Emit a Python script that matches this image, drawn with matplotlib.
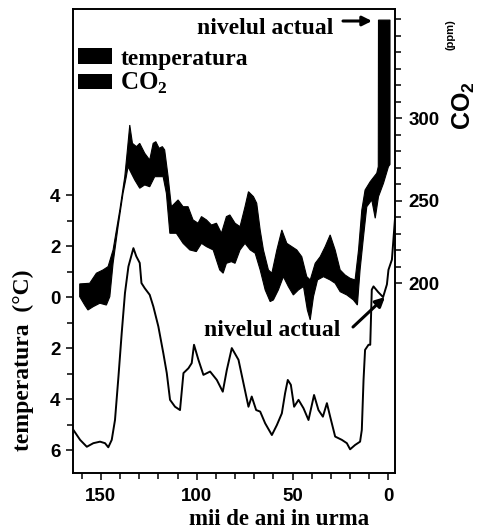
import numpy as np
import matplotlib
matplotlib.use("Agg")
import matplotlib.pyplot as plt
from matplotlib.patches import Patch

plt.rcParams["mathtext.fontset"] = "custom"
plt.rcParams["mathtext.sf"] = "Liberation Sans:bold"
plt.rcParams["mathtext.bf"] = "Liberation Serif:bold"

# CO2 band (ppm): upper and lower edges, thousands of years before present
co2_up_age = [161.0, 155.8, 152.3, 148.8, 146.2, 143.6, 140.1, 137.5, 136.3, 134.9,
              133.5, 131.4, 129.7, 127.1, 124.5, 122.7, 121.3, 119.6, 117.9, 116.7,
              114.9, 113.2, 109.7, 107.1, 104.5, 101.9, 99.3, 97.5, 94.9, 92.3,
              89.7, 87.1, 84.5, 82.7, 80.0, 77.4, 74.8, 73.0, 70.4, 68.7,
              66.9, 65.2, 62.6, 60.8, 58.2, 55.6, 53.0, 50.4, 47.8, 45.2,
              42.6, 40.8, 38.2, 35.6, 33.0, 30.4, 27.8, 25.2, 22.6, 20.0,
              17.4, 15.6, 13.9, 12.2, 9.5, 6.1, 5.3, 5.2, -0.8]
co2_up = [199.6, 200.0, 206.1, 208.1, 210.1, 220.2, 244.4, 264.6, 278.8, 295.9,
          284.8, 282.8, 284.8, 278.8, 274.7, 284.8, 285.8, 281.8, 282.8, 280.8,
          264.6, 246.4, 250.5, 246.4, 246.4, 238.4, 236.4, 240.4, 238.4, 235.3,
          236.4, 230.3, 240.4, 241.4, 236.4, 234.3, 246.4, 255.5, 252.5, 248.5,
          232.3, 220.2, 208.1, 206.1, 220.2, 232.3, 224.2, 222.2, 220.2, 216.1,
          204.0, 202.0, 212.1, 216.1, 222.2, 229.3, 220.2, 208.1, 205.0, 203.0,
          202.0, 220.2, 244.4, 256.5, 261.6, 266.7, 270.7, 359.5, 359.5]

co2_lo_age = [161.0, 158.4, 156.7, 154.0, 150.5, 147.1, 145.3, 143.6, 141.0, 138.4,
              136.7, 135.8, 134.1, 132.3, 129.7, 127.1, 124.5, 121.9, 119.3, 117.5,
              115.8, 114.0, 110.6, 107.1, 103.6, 100.2, 97.5, 94.9, 91.4, 88.0,
              86.2, 84.5, 81.9, 80.0, 77.4, 74.8, 72.1, 69.5, 66.9, 64.3,
              61.7, 60.0, 57.4, 54.8, 52.2, 49.6, 46.9, 44.3, 42.3, 40.8,
              39.1, 37.0, 33.9, 30.4, 27.8, 25.2, 21.7, 18.3, 16.2, 14.8,
              13.0, 11.3, 8.7, 6.9, 5.2, 2.6, 0.0, -0.8]
co2_lo = [191.9, 186.8, 183.8, 185.8, 187.9, 186.8, 191.9, 212.1, 234.3, 254.5,
          264.6, 270.7, 266.7, 262.6, 257.6, 259.6, 258.5, 264.6, 264.6, 264.6,
          254.5, 230.3, 230.3, 224.2, 220.2, 219.2, 224.2, 222.2, 220.2, 208.1,
          206.1, 212.1, 213.1, 212.1, 220.2, 224.2, 220.2, 218.2, 208.1, 196.0,
          188.9, 189.9, 196.0, 204.0, 198.0, 192.9, 196.0, 198.0, 183.8, 177.8,
          191.9, 202.0, 204.0, 202.0, 200.0, 194.9, 192.9, 189.9, 186.8, 208.1,
          228.3, 246.4, 250.5, 239.4, 252.5, 260.6, 270.7, 272.0]

# temperature difference (deg C) vs. thousands of years before present
temp_age = [164.3, 160.8, 157.3, 153.9, 150.4, 147.8, 146.1, 144.3, 142.6, 140.8,
            139.1, 137.4, 135.6, 133.0, 131.5, 129.7, 128.8, 127.1, 124.5, 122.6,
            120.0, 117.4, 115.6, 113.9, 111.3, 108.7, 106.9, 104.3, 102.6, 101.4,
            99.1, 96.5, 93.0, 89.5, 86.4, 84.3, 81.7, 78.2, 75.6, 73.0,
            71.3, 69.0, 66.9, 64.3, 60.8, 58.2, 55.6, 53.9, 52.5, 50.9,
            49.2, 46.9, 44.3, 41.7, 38.8, 36.5, 34.2, 32.1, 30.4, 27.8,
            24.3, 21.7, 20.0, 17.4, 14.8, 13.9, 13.0, 12.2, 10.4, 9.5,
            8.7, 7.8, 5.4, 2.8, 0.8, 0.0, -1.8, -3.5]
temp = [-5.21, -5.60, -5.87, -5.73, -5.67, -5.73, -5.89, -5.60, -4.82, -3.12,
        -1.41, 0.16, 1.20, 1.92, 1.60, 1.34, 0.55, 0.35, 0.09, -0.37,
        -1.15, -2.20, -2.98, -4.03, -4.30, -4.43, -2.98, -2.79, -2.59, -1.87,
        -2.46, -3.05, -2.92, -3.25, -3.71, -2.86, -2.00, -2.46, -3.38, -4.30,
        -3.90, -4.43, -4.49, -4.95, -5.41, -5.02, -4.56, -3.77, -3.25, -3.44,
        -4.30, -4.03, -4.36, -4.82, -3.84, -4.43, -4.69, -4.16, -4.69, -5.47,
        -5.60, -5.73, -5.97, -5.80, -5.67, -5.21, -3.25, -2.07, -1.87, -1.87,
        0.29, 0.42, 0.20, 0.00, 0.50, 1.07, 1.47, 3.17]

temp_ticks = [-6, -4, -2, 0, 2, 4]
temp_ticklabels = ["6", "4", "2", "0", "2", "4"]
co2_ticks = [200, 250, 300]
age_ticks = [150, 100, 50, 0]

serif = dict(family="Liberation Serif", weight="bold")
sans = dict(family="Liberation Sans", weight="bold")

fig = plt.figure(figsize=(4.79, 5.31), dpi=100)
ax = fig.add_axes([0.1524, 0.1092, 0.6722, 0.8738])
ax2 = ax.twinx()

ax.plot(temp_age, temp, color="black", lw=1.4)
ax2.fill(np.r_[co2_up_age, co2_lo_age[::-1]], np.r_[co2_up, co2_lo[::-1]],
         color="black", lw=0.8, ec="black")

ax.set_xlim(164.5, -3.4)
ax.set_ylim(-6.9, 11.3)
ax2.set_ylim(85, 366.2)

ax.set_xticks(age_ticks)
ax.set_xticks(np.arange(160, -1, -10), minor=True)
ax.set_yticks(temp_ticks)
ax.set_yticklabels(temp_ticklabels)
ax.set_yticks([-5, -3, -1, 1, 3], minor=True)
ax2.set_yticks(co2_ticks)
ax2.set_yticks(np.arange(200, 361, 10), minor=True)

for a in (ax, ax2):
    a.tick_params(which="both", direction="out", width=1.1, colors="black")
    a.tick_params(which="major", length=5)
    a.tick_params(which="minor", length=4.5)
    for sp in a.spines.values():
        sp.set_linewidth(1.2)
ax.tick_params(axis="y", pad=4)
ax.tick_params(axis="x", pad=6)
ax2.tick_params(axis="y", pad=5)
for lab in ax.get_xticklabels() + ax.get_yticklabels() + ax2.get_yticklabels():
    lab.set_fontproperties(dict(sans, size=13.5))

# axis titles
fig.text(279 / 479, 1 - 525 / 531, "mii de ani in urma", ha="center", va="baseline",
         size=16.5, **serif)
fig.text(23 / 479, 1 - 360 / 531, "temperatura  (°C)", rotation=90, ha="center",
         va="center", size=17, **serif)
fig.text(464 / 479, 1 - 106 / 531, r"CO$_\mathsf{2}$", rotation=90, ha="center",
         va="center", size=18, **sans)
fig.text(451 / 479, 1 - 35 / 531, "(ppm)", rotation=90, ha="center", va="center",
         size=8, **sans)

leg = ax.legend([Patch(facecolor="black"), Patch(facecolor="black")],
                ["temperatura", r"CO$_\mathbf{2}$"],
                loc="upper left", bbox_to_anchor=(0.0155, 0.915), frameon=False,
                prop=dict(serif, size=17), handlelength=1.45, handleheight=0.65,
                handletextpad=0.35, labelspacing=0.05, borderpad=0, borderaxespad=0)
leg.get_texts()[1].set_fontsize(18)

# "present level" markers
arrow = dict(arrowstyle="-|>", color="black", lw=2.2, mutation_scale=14,
             shrinkA=0, shrinkB=0)
fig.text(333 / 479, 1 - 28 / 531, "nivelul actual", ha="right", va="center",
         size=17, **serif)
ax.annotate("", xy=(372, 531 - 21), xytext=(343, 531 - 21),
            xycoords="figure pixels", textcoords="figure pixels", arrowprops=arrow)
fig.text(340 / 479, 1 - 330 / 531, "nivelul actual", ha="right", va="center",
         size=17, **serif)
ax.annotate("", xy=(385, 531 - 297), xytext=(353, 531 - 327),
            xycoords="figure pixels", textcoords="figure pixels", arrowprops=arrow)

fig.savefig("out.png", dpi=100)
